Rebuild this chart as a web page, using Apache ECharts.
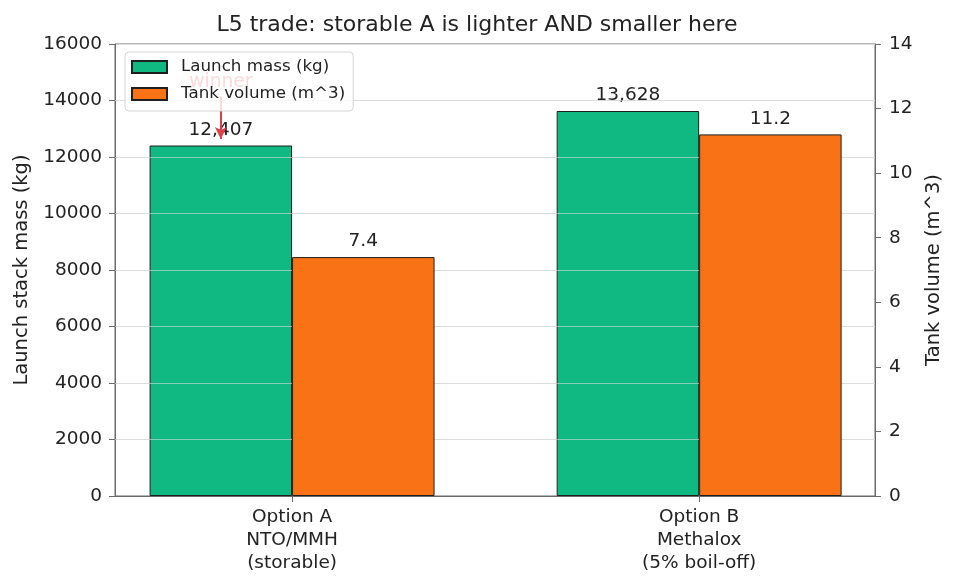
<!DOCTYPE html>
<html>
<head>
<meta charset="utf-8">
<script src="https://cdn.jsdelivr.net/npm/echarts@6/dist/echarts.min.js"></script>
<style>
  html, body { margin: 0; padding: 0; background: #fff; }
  #chart { width: 954px; height: 587px; }
</style>
</head>
<body>
<div id="chart"></div>
<script>
// data
const categories = ['Option A\nNTO/MMH\n(storable)', 'Option B\nMethalox\n(5% boil-off)'];
const launchMass = [12407, 13628];     // kg
const tankVolume = [7.4, 11.2];        // m^3
const massTicks = [0, 16000, 2000];    // min, max, step
const volTicks = [0, 14, 2];
const winnerArrow = [14150, 12640];    // kg, start and tip of the "winner" arrow

const BAR_W = 0.35;                     // bar width in x units
const X_MIN = -0.435, X_MAX = 1.432;
const FONT = 'DejaVu Sans';
const SPINE = '#6b6b6b';
const TXT = '#222';

const chart = echarts.init(document.getElementById('chart'));

const massData = launchMass.map((v, i) => [i - BAR_W / 2, v]);
const volData = tankVolume.map((v, i) => [i + BAR_W / 2, v]);

// gridlines of the left axis, drawn again over the green bars (orange covers them)
const gridVals = [];
for (let v = massTicks[0] + massTicks[2]; v < massTicks[1]; v += massTicks[2]) gridVals.push(v);

const plotLeft = 115, plotRight = 875;
const barPx = (plotRight - plotLeft) / (X_MAX - X_MIN) * BAR_W;

const xBase = {
  type: 'value', min: X_MIN, max: X_MAX, gridIndex: 0,
  splitLine: { show: false }
};

const options = {
  backgroundColor: '#fff',
  animation: false,
  textStyle: { fontFamily: FONT },
  title: {
    text: 'L5 trade: storable A is lighter AND smaller here',
    left: 'center', top: 8,
    textStyle: { fontFamily: FONT, fontSize: 22, lineHeight: 24, fontWeight: 'normal', color: TXT }
  },
  legend: {
    orient: 'vertical', left: 125, top: 52,
    padding: [6, 8, 8, 6], itemGap: 9,
    itemWidth: 35, itemHeight: 12, icon: 'rect',
    backgroundColor: 'rgba(255,255,255,0.8)',
    borderColor: '#d4d4d4', borderWidth: 1, borderRadius: 4,
    textStyle: { fontFamily: FONT, fontSize: 16.7, lineHeight: 18, color: TXT, padding: [0, 0, 0, 9] },
    z: 10
  },
  grid: {
    left: plotLeft, right: 954 - plotRight, top: 44, bottom: 91,
    show: true, borderColor: SPINE, borderWidth: 1, backgroundColor: 'transparent'
  },
  xAxis: [
    Object.assign({}, xBase, {
      position: 'bottom',
      axisLine: { show: true, onZero: false, lineStyle: { color: SPINE } },
      axisTick: { show: true, length: 6, customValues: [0, 1], lineStyle: { color: SPINE } },
      axisLabel: {
        customValues: [0, 1], margin: 10,
        formatter: v => categories[Math.round(v)],
        fontFamily: FONT, fontSize: 18.5, lineHeight: 23, color: TXT
      }
    }),
    Object.assign({}, xBase, { show: false })
  ],
  yAxis: [
    {
      type: 'value', min: massTicks[0], max: massTicks[1], interval: massTicks[2],
      name: 'Launch stack mass (kg)', nameLocation: 'middle', nameGap: 76,
      nameTextStyle: { fontFamily: FONT, fontSize: 19.5, color: TXT },
      axisLine: { show: true, onZero: false, lineStyle: { color: SPINE } },
      axisTick: { show: true, length: 6, lineStyle: { color: SPINE } },
      axisLabel: { fontFamily: FONT, fontSize: 18.5, color: TXT, margin: 13, formatter: v => String(v) },
      splitLine: { show: true, lineStyle: { color: '#dcdcdc', width: 1 } }
    },
    {
      type: 'value', min: volTicks[0], max: volTicks[1], interval: volTicks[2],
      position: 'right',
      name: 'Tank volume (m^3)', nameLocation: 'middle', nameGap: 40,
      nameTextStyle: { fontFamily: FONT, fontSize: 19.5, color: TXT },
      axisLine: { show: true, onZero: false, lineStyle: { color: SPINE } },
      axisTick: { show: true, length: 6, lineStyle: { color: SPINE } },
      axisLabel: { fontFamily: FONT, fontSize: 18.5, color: TXT, margin: 14, formatter: v => String(v) },
      splitLine: { show: false }
    }
  ],
  series: [
    {
      name: 'Launch mass (kg)',
      type: 'bar', xAxisIndex: 0, yAxisIndex: 0, z: 1,
      data: massData, barWidth: barPx,
      itemStyle: { color: '#10b981', borderColor: '#1f1f1f', borderWidth: 1 },
      label: {
        show: true, position: 'top', distance: 6,
        formatter: p => p.value[1].toLocaleString('en-US'),
        fontFamily: FONT, fontSize: 18.5, color: TXT
      },
      markLine: {
        silent: true, z: 2,
        symbol: ['none', 'none'],
        lineStyle: { color: 'rgba(220,220,220,0.6)', width: 1, type: 'solid' },
        label: { show: false },
        data: gridVals.map(v => ({ yAxis: v })).concat([[
          {
            coord: [massData[0][0], winnerArrow[0]], symbol: 'none',
            lineStyle: { color: '#e0404a', width: 2 },
            label: {
              show: true, position: 'start', distance: 5, formatter: 'winner',
              fontFamily: FONT, fontSize: 18.7, color: '#e0404a'
            }
          },
          { coord: [massData[0][0], winnerArrow[1]], symbol: 'arrow', symbolSize: [9, 12] }
        ]])
      }
    },
    {
      name: 'Tank volume (m^3)',
      type: 'bar', xAxisIndex: 1, yAxisIndex: 1, z: 3,
      data: volData, barWidth: barPx,
      itemStyle: { color: '#f97316', borderColor: '#1f1f1f', borderWidth: 1 },
      label: {
        show: true, position: 'top', distance: 6,
        formatter: p => p.value[1].toFixed(1),
        fontFamily: FONT, fontSize: 18.5, color: TXT
      }
    }
  ]
};

chart.setOption(options);
window.onresize = function () {
  chart.resize();
};
</script>
</body>
</html>
